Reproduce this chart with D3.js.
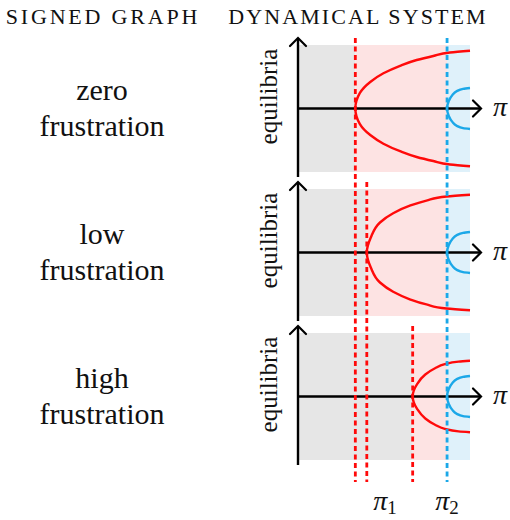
<!DOCTYPE html>
<html lang="en">
<head>
<meta charset="utf-8">
<title>Frustration and bifurcations</title>
<script src="https://d3js.org/d3.v7.min.js"></script>
<style>
  body { margin: 0; background: #fff; }
</style>
</head>
<body>
<script>
  var w = 510, h = 520;

  // column headers and row labels
  var headers = ["SIGNED GRAPH", "DYNAMICAL SYSTEM"];
  var rowWords = ["zero", "low", "high"];

  // bifurcation points (pi units) per row, and the shared second one
  var pi1 = [1.0, 1.2, 2.0];
  var pi2 = 2.6;
  var piMax = 3.0;

  // upper half of each red branch: [pi, equilibrium]
  var redBranch = [
    [[1.0, 0], [1.08, 0.27], [1.26, 0.46], [1.49, 0.61], [1.78, 0.74], [2.07, 0.84], [2.36, 0.91], [2.65, 0.97], [3.0, 1.0]],
    [[1.2, 0], [1.27, 0.26], [1.43, 0.52], [1.66, 0.68], [1.95, 0.81], [2.24, 0.90], [2.59, 0.97], [3.0, 1.0]],
    [[2.0, 0], [2.08, 0.22], [2.22, 0.38], [2.39, 0.49], [2.56, 0.56], [2.80, 0.605], [3.0, 0.62]]
  ];
  // upper half of the blue branch (same in every row)
  var blueBranch = [[2.6, 0], [2.63, 0.13], [2.69, 0.23], [2.77, 0.30], [2.88, 0.34], [3.0, 0.355]];

  var red = "#ff0a0a", blue = "#1ba8e8";
  var serif = "Liberation Serif";

  var svg = d3.select("body").append("svg")
    .attr("width", w)
    .attr("height", h);

  var x = d3.scaleLinear().domain([0, piMax]).range([298, 470]);
  var panelH = 127, step = 144, top0 = 45;

  // mirror the upper half so one path runs bottom -> vertex -> top
  function both(half) {
    var lower = half.slice(1).map(d => [d[0], -d[1]]).reverse();
    return lower.concat(half);
  }

  function label(px, py, size) {
    return svg.append("text")
      .attr("x", px)
      .attr("y", py)
      .attr("font-family", serif)
      .attr("font-size", size)
      .attr("fill", "#111");
  }

  // headers
  svg.selectAll(".hdr")
    .data(headers)
    .enter()
    .append("text")
    .attr("class", "hdr")
    .attr("x", (d, i) => i === 0 ? 103 : 358)
    .attr("y", 24)
    .attr("text-anchor", "middle")
    .attr("font-family", serif)
    .attr("font-size", 22)
    .attr("letter-spacing", (d, i) => i === 0 ? 2.8 : 2.1)
    .attr("fill", "#111")
    .text(d => d);

  rowWords.forEach(function(word, i) {
    var yTop = top0 + i * step;
    var y = d3.scaleLinear().domain([-1.1, 1.1]).range([yTop + panelH, yTop]);
    var g = svg.append("g");

    // shaded regions
    var bands = [[0, pi1[i], "#e6e6e6"], [pi1[i], pi2, "#fde3e3"], [pi2, piMax, "#dff1fa"]];
    g.selectAll("rect")
      .data(bands)
      .enter()
      .append("rect")
      .attr("x", d => x(d[0]))
      .attr("y", yTop)
      .attr("width", d => x(d[1]) - x(d[0]))
      .attr("height", panelH)
      .attr("fill", d => d[2]);

    // x as a function of y keeps the vertex tangent vertical
    var line = d3.line()
      .x(d => x(d[0]))
      .y(d => y(d[1]))
      .curve(d3.curveMonotoneY);

    g.append("path")
      .attr("d", line(both(redBranch[i])))
      .attr("fill", "none")
      .attr("stroke", red)
      .attr("stroke-width", 2.4);

    g.append("path")
      .attr("d", line(both(blueBranch)))
      .attr("fill", "none")
      .attr("stroke", blue)
      .attr("stroke-width", 2.4);

    // axes
    var ax = x(0), ay = y(0);
    var tipY = yTop - 7, tipX = x(piMax) + 11;
    g.append("line")
      .attr("x1", ax).attr("x2", ax)
      .attr("y1", yTop + panelH + 5).attr("y2", tipY + 1)
      .attr("stroke", "#000").attr("stroke-width", 2.4);
    g.append("line")
      .attr("x1", ax).attr("x2", tipX - 1)
      .attr("y1", ay).attr("y2", ay)
      .attr("stroke", "#000").attr("stroke-width", 2.4);
    g.append("path")
      .attr("d", "M" + (ax - 8) + "," + (tipY + 8) + "Q" + (ax - 2) + "," + (tipY + 2) + " " + ax + "," + tipY +
                 "Q" + (ax + 2) + "," + (tipY + 2) + " " + (ax + 8) + "," + (tipY + 8))
      .attr("fill", "none").attr("stroke", "#000").attr("stroke-width", 2.2).attr("stroke-linecap", "round");
    g.append("path")
      .attr("d", "M" + (tipX - 8) + "," + (ay - 8) + "Q" + (tipX - 2) + "," + (ay - 2) + " " + tipX + "," + ay +
                 "Q" + (tipX - 2) + "," + (ay + 2) + " " + (tipX - 8) + "," + (ay + 8))
      .attr("fill", "none").attr("stroke", "#000").attr("stroke-width", 2.2).attr("stroke-linecap", "round");

    label(tipX + 12, ay + 7, 28)
      .attr("font-style", "italic")
      .text("π");

    svg.append("text")
      .attr("transform", "translate(277," + (ay - 12) + ") rotate(-90)")
      .attr("text-anchor", "middle")
      .attr("font-family", serif)
      .attr("font-size", 25)
      .attr("fill", "#111")
      .text("equilibria");

    // row label, two lines
    label(102, ay - 9, 30).attr("text-anchor", "middle").text(word);
    label(102, ay + 27, 30).attr("text-anchor", "middle").text("frustration");
  });

  // dashed markers for the bifurcation points, drawn over the panels
  var dashes = pi1.map((p, i) => ({ p: p, row: i, color: red }))
    .concat([{ p: pi2, row: 0, color: blue }]);
  svg.selectAll(".dash")
    .data(dashes)
    .enter()
    .append("line")
    .attr("class", "dash")
    .attr("x1", d => x(d.p)).attr("x2", d => x(d.p))
    .attr("y1", d => top0 + d.row * step - 7)
    .attr("y2", 482)
    .attr("stroke", d => d.color)
    .attr("stroke-width", 2.8)
    .attr("stroke-dasharray", "5,3.5");

  // pi_1 and pi_2 labels
  var subs = [["1", 385], ["2", 447]];
  subs.forEach(function(s) {
    var t = label(s[1], 510, 28).attr("text-anchor", "middle");
    t.append("tspan").attr("font-style", "italic").text("π");
    t.append("tspan").attr("font-size", 19).attr("dy", 4).text(s[0]);
  });
</script>
</body>
</html>
